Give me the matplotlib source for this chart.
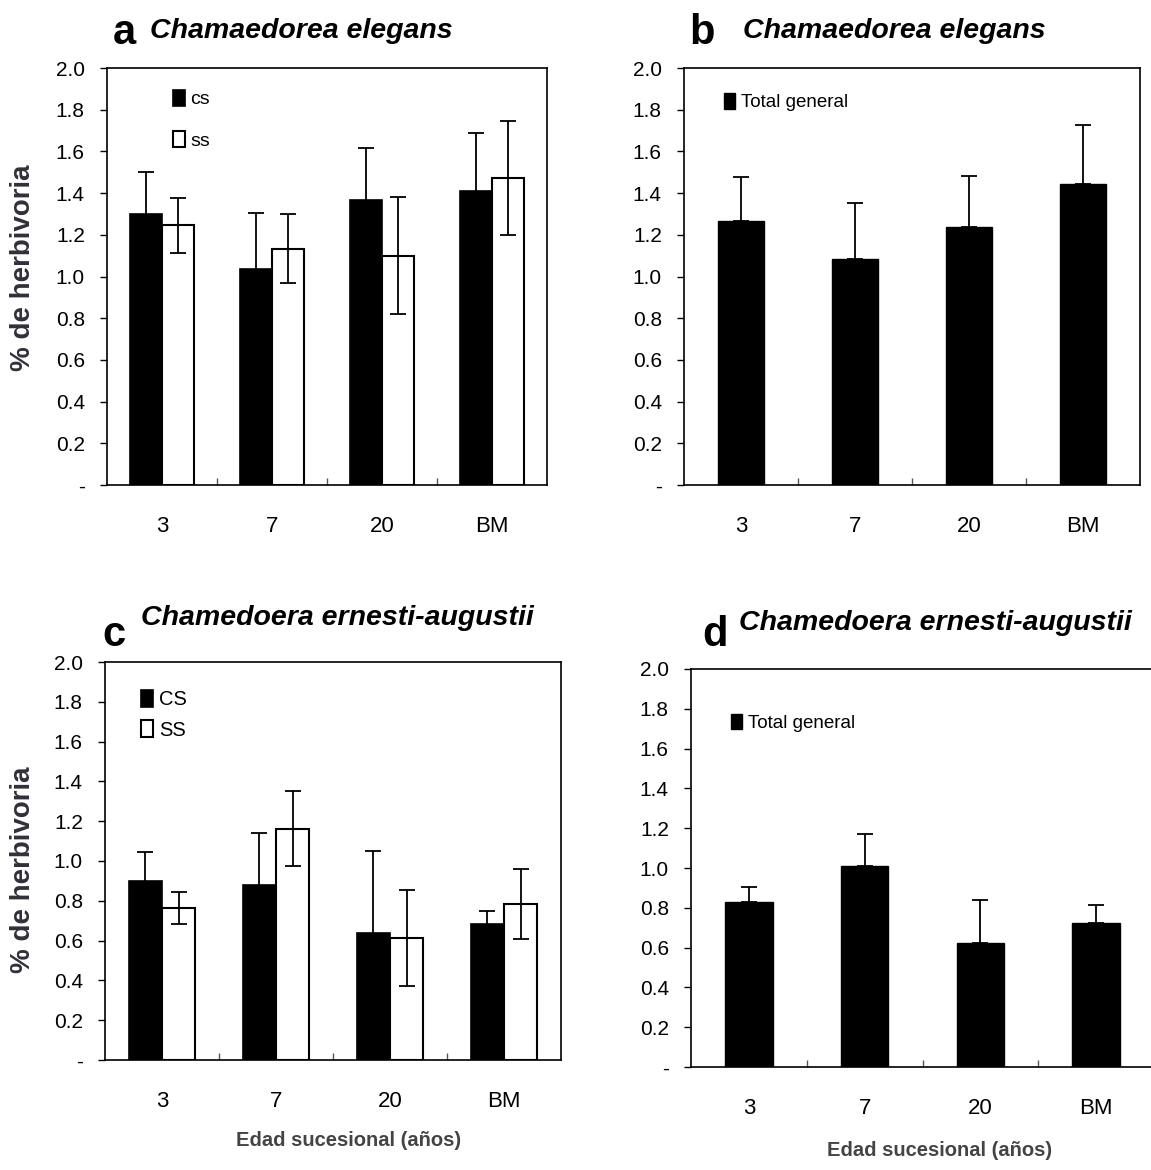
import matplotlib
matplotlib.use("Agg")
import matplotlib.pyplot as plt

# data
edades = ["3", "7", "20", "BM"]

eleg_cs = [1.30, 1.035, 1.365, 1.408]
eleg_cs_err = [0.20, 0.27, 0.25, 0.28]
eleg_ss = [1.245, 1.133, 1.100, 1.473]
eleg_ss_err = [0.13, 0.165, 0.28, 0.275]
eleg_total = [1.268, 1.082, 1.236, 1.444]
eleg_total_err = [0.207, 0.272, 0.248, 0.282]

ern_cs = [0.899, 0.880, 0.636, 0.683]
ern_cs_err = [0.148, 0.26, 0.413, 0.065]
ern_ss = [0.763, 1.163, 0.612, 0.783]
ern_ss_err = [0.08, 0.19, 0.242, 0.177]
ern_total = [0.828, 1.012, 0.621, 0.726]
ern_total_err = [0.078, 0.16, 0.218, 0.089]

fuente = ["Liberation Sans", "DejaVu Sans"]

W, H = 1151, 1170
fig = plt.figure(figsize=(W / 100, H / 100), dpi=100)


def px_axes(left, top, right, bottom):
    return fig.add_axes([left / W, 1 - bottom / H, (right - left) / W, (bottom - top) / H])


def style(ax):
    ax.set_xlim(-0.5, 3.5)
    ax.set_ylim(0, 2.0)
    yt = [i * 0.2 for i in range(11)]
    ax.set_yticks(yt)
    ax.set_yticklabels(["-"] + ["%.1f" % v for v in yt[1:]], family=fuente, fontsize=15)
    ax.set_xticks(range(4))
    ax.set_xticklabels(edades, family=fuente, fontsize=16)
    ax.set_xticks([0.5, 1.5, 2.5], minor=True)
    ax.tick_params(axis="x", which="major", length=0, pad=22)
    ax.tick_params(axis="x", which="minor", direction="in", length=5, width=1, color="#555555")
    ax.tick_params(axis="y", direction="out", length=5, width=1, pad=11)
    for s in ax.spines.values():
        s.set_linewidth(1.2)


def grouped(ax, cs, cs_err, ss, ss_err, labels):
    w = 0.29
    x = range(4)
    ax.bar([i - w / 2 for i in x], cs, w, color="black", edgecolor="black", linewidth=1.2,
           yerr=cs_err, capsize=5.5, error_kw=dict(elinewidth=1.3, capthick=1.3), label=labels[0])
    ax.bar([i + w / 2 for i in x], ss, w, color="white", edgecolor="black", linewidth=1.5,
           yerr=ss_err, capsize=5.5, error_kw=dict(elinewidth=1.3, capthick=1.3), label=labels[1])
    style(ax)


def total(ax, vals, err):
    ax.bar(range(4), vals, 0.41, color="black", edgecolor="black",
           yerr=[[0] * 4, err], capsize=5.5, error_kw=dict(elinewidth=1.3, capthick=1.3),
           label="Total general")
    style(ax)


leg_kw = dict(loc="upper left", frameon=False, handlelength=0.6, handleheight=0.9,
              handletextpad=0.3)

ax_a = px_axes(107, 68, 547, 485)
grouped(ax_a, eleg_cs, eleg_cs_err, eleg_ss, eleg_ss_err, ["cs", "ss"])
ax_a.legend(bbox_to_anchor=(0.11, 0.99), prop=dict(family=fuente, size=14),
            labelspacing=1.15, **leg_kw)

ax_b = px_axes(684, 68, 1140, 485)
total(ax_b, eleg_total, eleg_total_err)
ax_b.legend(bbox_to_anchor=(0.05, 0.98), prop=dict(family=fuente, size=13.5), **leg_kw)

ax_c = px_axes(105, 662, 561, 1060)
grouped(ax_c, ern_cs, ern_cs_err, ern_ss, ern_ss_err, ["CS", "SS"])
ax_c.legend(bbox_to_anchor=(0.04, 0.975), prop=dict(family=fuente, size=14.5),
            labelspacing=0.55, **leg_kw)

ax_d = px_axes(691, 669, 1154, 1067)
total(ax_d, ern_total, ern_total_err)
ax_d.legend(bbox_to_anchor=(0.05, 0.93), prop=dict(family=fuente, size=13.5), **leg_kw)


def ftext(x, y, s, **kw):
    fig.text(x / W, 1 - y / H, s, **kw)


# panel letters and titles
for x, y, s in [(113, 44, "a"), (689, 44, "b"), (102, 646, "c"), (702, 646, "d")]:
    ftext(x, y, s, family=fuente, fontsize=30, fontweight="bold", va="baseline")
for x, y, s in [(150, 38, "Chamaedorea elegans"), (743, 38, "Chamaedorea elegans"),
                (141, 625, "Chamedoera ernesti-augustii"), (739, 630, "Chamedoera ernesti-augustii")]:
    ftext(x, y, s, family=fuente, fontsize=20.5, fontweight="bold", style="italic", va="baseline")

# axis labels
for y in [268, 870]:
    ftext(23, y, "% de herbivoria", family=fuente, fontsize=20, fontweight="bold",
          color="#30303a", rotation=90, ha="center", va="center")
for x, y in [(349, 1140), (940, 1150)]:
    ftext(x, y, "Edad sucesional (años)", family=fuente, fontsize=14.5, fontweight="bold",
          color="#444444", ha="center", va="center")

fig.savefig("out.png", dpi=100)
